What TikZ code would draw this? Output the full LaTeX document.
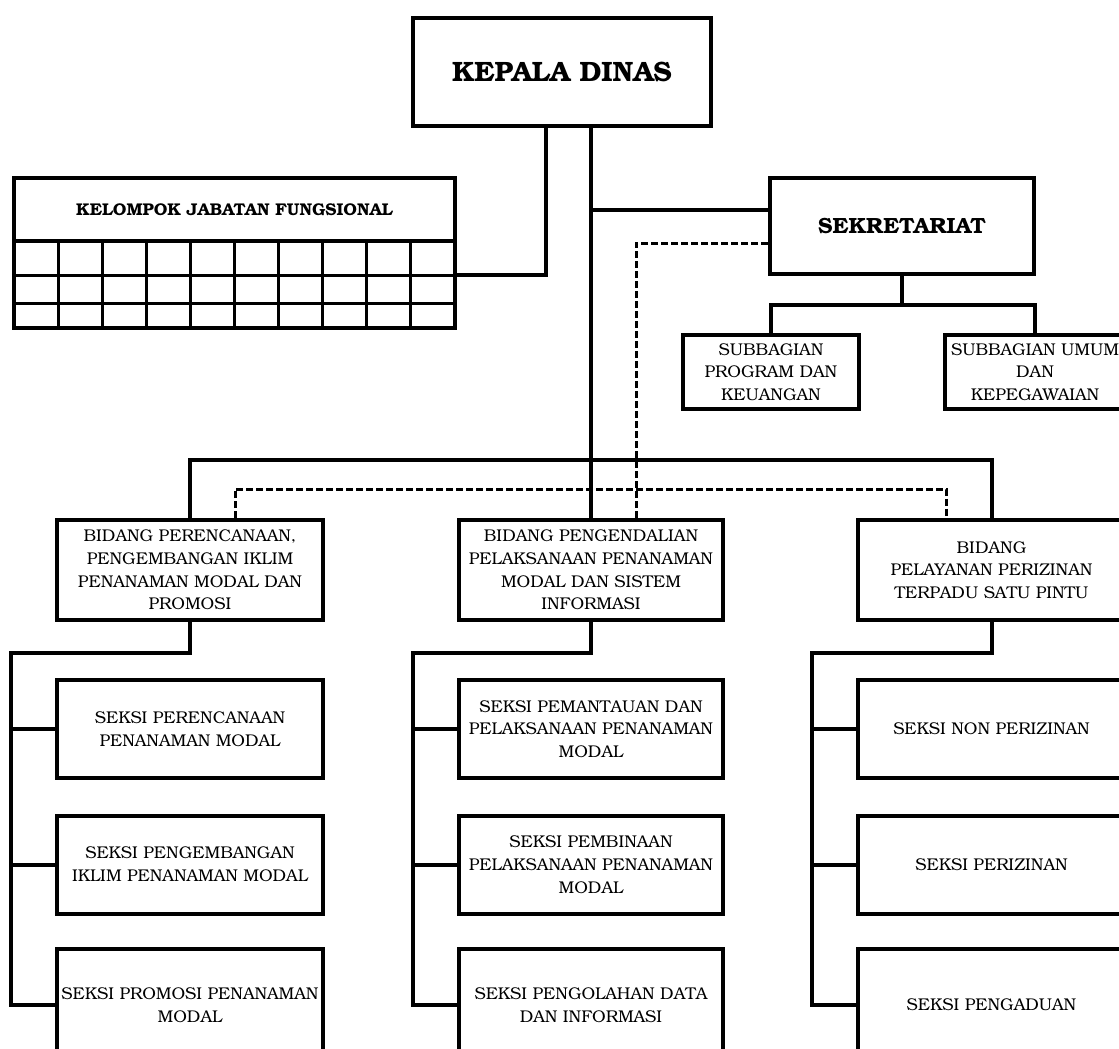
\documentclass[tikz,border=0pt]{standalone}
\usepackage[T1]{fontenc}
\usepackage{bookman}
\usetikzlibrary{calc}

\begin{document}
\begin{tikzpicture}[
    x=1pt, y=-1pt, % pixel-like units, y pointing down
    line width=4pt, % line style
    box/.style ={draw, rectangle, align=center, inner sep=1pt,
                 font=\fontsize{17}{22.7}\selectfont},
    bus/.style ={line width=4pt},
    dashline/.style ={line width=3pt, dash pattern=on 7pt off 3pt},
    % head/.style={font=\bfseries}
]
\useasboundingbox (0,0) rectangle (1119,1049);
\clip (0,0) rectangle (1119,1049);

% top
\node[box, minimum width=298, minimum height=108,
      font=\fontsize{28}{30}\selectfont\bfseries] (kepala) at (562,72) {KEPALA DINAS};
\node[box, minimum width=264, minimum height=96,
      font=\fontsize{22}{24}\selectfont\bfseries] (sekr) at (902,226) {SEKRETARIAT};
\node[box, minimum width=176, minimum height=74] (suba) at (771,372) {SUBBAGIAN\\PROGRAM DAN\\KEUANGAN};
\node[box, minimum width=180, minimum height=74] (subb) at (1035,372) {SUBBAGIAN UMUM\\DAN\\KEPEGAWAIAN};

% kelompok jabatan fungsional
\node[box, minimum width=441, minimum height=150] (kjf) at (234.5,253) {};
\node[font=\fontsize{17}{19}\selectfont\bfseries] (kjft) at (234.5,210) {KELOMPOK JABATAN FUNGSIONAL};
\draw (kjf.west |- 0,241) -- (kjf.east |- 0,241);
\foreach \r in {275,303}
    \draw[line width=3pt] (kjf.west |- 0,\r) -- (kjf.east |- 0,\r);
\foreach \c in {1,...,9} {
    \pgfmathsetmacro\gx{14+44.1*\c}
    \draw[line width=3pt] (\gx,241) -- (\gx,328);
}

% bidang
\node[box, minimum width=266, minimum height=100] (bida) at (190,570) {BIDANG PERENCANAAN,\\PENGEMBANGAN IKLIM\\PENANAMAN MODAL DAN\\PROMOSI};
\node[box, minimum width=264, minimum height=100] (bidb) at (591,570) {BIDANG PENGENDALIAN\\PELAKSANAAN PENANAMAN\\MODAL DAN SISTEM\\INFORMASI};
\node[box, minimum width=267, minimum height=100] (bidc) at (991.5,570) {BIDANG\\PELAYANAN PERIZINAN\\TERPADU SATU PINTU};

% seksi
\node[box, minimum width=266, minimum height=98] (a1) at (190,729) {SEKSI PERENCANAAN\\PENANAMAN MODAL};
\node[box, minimum width=266, minimum height=98] (a2) at (190,864.5) {SEKSI PENGEMBANGAN\\IKLIM PENANAMAN MODAL};
\node[box, minimum width=266, minimum height=112] (a3) at (190,1005) {SEKSI PROMOSI PENANAMAN\\MODAL};
\node[box, minimum width=264, minimum height=98] (b1) at (591,729) {SEKSI PEMANTAUAN DAN\\PELAKSANAAN PENANAMAN\\MODAL};
\node[box, minimum width=264, minimum height=98] (b2) at (591,864.5) {SEKSI PEMBINAAN\\PELAKSANAAN PENANAMAN\\MODAL};
\node[box, minimum width=264, minimum height=112] (b3) at (591,1005) {SEKSI PENGOLAHAN DATA\\DAN INFORMASI};
\node[box, minimum width=267, minimum height=98] (c1) at (991.5,729) {SEKSI NON PERIZINAN};
\node[box, minimum width=267, minimum height=98] (c2) at (991.5,864.5) {SEKSI PERIZINAN};
\node[box, minimum width=267, minimum height=112] (c3) at (991.5,1005) {SEKSI PENGADUAN};

% lines from the head
\draw[bus] ([xshift=-16pt]kepala.south) |- (kjf.east |- 0,275);
\draw[bus] ([xshift=29pt]kepala.south) -- (bidb.north);
\draw[bus] (bidb.north |- 0,210) -- ([yshift=16pt]sekr.west);
\draw[bus] (sekr.south) -- ++(0,29) -| (suba.north);
\draw[bus] (sekr.south) ++(0,29) -| (subb.north);
\draw[bus] (bida.north) -- ++(0,-58) -| (bidc.north);

% coordination (dashed)
\draw[dashline] ([yshift=-17pt]sekr.west) -| ([xshift=45pt]bidb.north);
\draw[dashline] ([xshift=45pt]bida.north) -- ++(0,-29) -| ([xshift=-45pt]bidc.north);

% seksi lines
\foreach \c in {a,b,c} {
    \draw[bus] (bid\c.south) -- ++(0,31) -| ([xshift=-44pt]\c1.west) |- (\c3.west);
    \draw[bus] ([xshift=-44pt]\c1.west) -- (\c1.west);
    \draw[bus] ([xshift=-44pt]\c2.west) -- (\c2.west);
}
\end{tikzpicture}
\end{document}
